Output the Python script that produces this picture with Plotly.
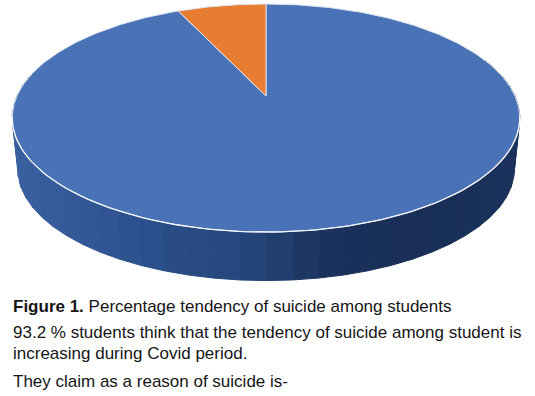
import math
import plotly.graph_objects as go

# ---- data ----
categories = ["Yes", "No"]
values = [93.2, 6.8]
slice_colors = ["#4a72b6", "#e87c30"]
caption_lines = [
    "<b>Figure 1.</b> Percentage tendency of suicide among students",
    "93.2 % students think that the tendency of suicide among student is",
    "increasing during Covid period.",
    "They claim as a reason of suicide is-",
]
caption_y = [306, 332, 353, 381]

# ---- projection of the tilted disc ----
CX, K = 266.0, 0.193


def project(theta, radius, y0, height):
    """theta is clockwise from 12 o'clock, in radians."""
    u, v = math.sin(theta), math.cos(theta)
    d = 1 + K * v
    return CX + radius * u / d, y0 - height * v / d


TOP = dict(radius=249.0, y0=96.0, height=109.8)
BASE = dict(radius=243.5, y0=148.0, height=107.0)

WALL_STOPS = [(14, (58, 96, 160)), (100, (50, 86, 148)), (170, (41, 76, 134)),
              (250, (35, 70, 122)), (330, (26, 50, 92)), (430, (24, 46, 86)),
              (520, (27, 50, 92))]


def wall_color(x):
    for (x0, c0), (x1, c1) in zip(WALL_STOPS, WALL_STOPS[1:]):
        if x <= x1:
            t = max(0, (x - x0) / (x1 - x0))
            return "rgb(%d,%d,%d)" % tuple(round(a + (b - a) * t) for a, b in zip(c0, c1))
    return "rgb(%d,%d,%d)" % WALL_STOPS[-1][1]


fig = go.Figure()

# side wall, in vertical bands
N_BANDS = 44
A0, A1 = math.radians(70), math.radians(290)
for i in range(N_BANDS):
    a = A0 + (A1 - A0) * i / N_BANDS
    b = A0 + (A1 - A0) * (i + 1) / N_BANDS
    angs = [a + (b - a) * j / 4 for j in range(5)]
    pts = [project(t, **TOP) for t in angs] + [project(t, **BASE) for t in reversed(angs)]
    xs, ys = zip(*pts)
    col = wall_color(sum(xs) / len(xs))
    fig.add_trace(go.Scatter(x=list(xs) + [xs[0]], y=list(ys) + [ys[0]], mode="lines",
                             fill="toself", fillcolor=col, line=dict(color=col, width=1),
                             hoverinfo="skip", showlegend=False))

# top face slices, clockwise from 12 o'clock
total = sum(values)
start = 0.0
for cat, val, col in zip(categories, values, slice_colors):
    sweep = 2 * math.pi * val / total
    steps = max(4, int(val * 4))
    pts = [project(start + sweep * j / steps, **TOP) for j in range(steps + 1)]
    xs = [p[0] for p in pts] + [CX]
    ys = [p[1] for p in pts] + [TOP["y0"]]
    fig.add_trace(go.Scatter(x=xs + [xs[0]], y=ys + [ys[0]], mode="lines", fill="toself",
                             fillcolor=col, line=dict(color="#dfe5f0", width=1),
                             name=cat, hoverinfo="name", showlegend=False))
    start += sweep

# bright rim along the front edge
rim_steps = 120
rim = [project(math.radians(100 + 160 * j / rim_steps), **TOP) for j in range(rim_steps + 1)]
fig.add_trace(go.Scatter(x=[p[0] for p in rim], y=[p[1] for p in rim], mode="lines",
                         line=dict(color="#f2f4f8", width=1.3), hoverinfo="skip", showlegend=False))

annotations = [
    dict(x=10.5, y=y, xref="x", yref="y", text=t, showarrow=False, xanchor="left", yanchor="middle",
         font=dict(family="Liberation Sans, Arial, sans-serif", size=17, color="#151515"))
    for t, y in zip(caption_lines, caption_y)
]

fig.update_layout(
    width=535, height=396, margin=dict(l=0, r=0, t=0, b=0),
    paper_bgcolor="white", plot_bgcolor="white", showlegend=False,
    xaxis=dict(range=[0, 535], visible=False, fixedrange=True),
    yaxis=dict(range=[396, 0], visible=False, fixedrange=True),
    annotations=annotations,
)

fig.write_html("out.html", config={"displayModeBar": False},
               post_script="document.body.style.margin='0';document.body.style.overflow='hidden';")
